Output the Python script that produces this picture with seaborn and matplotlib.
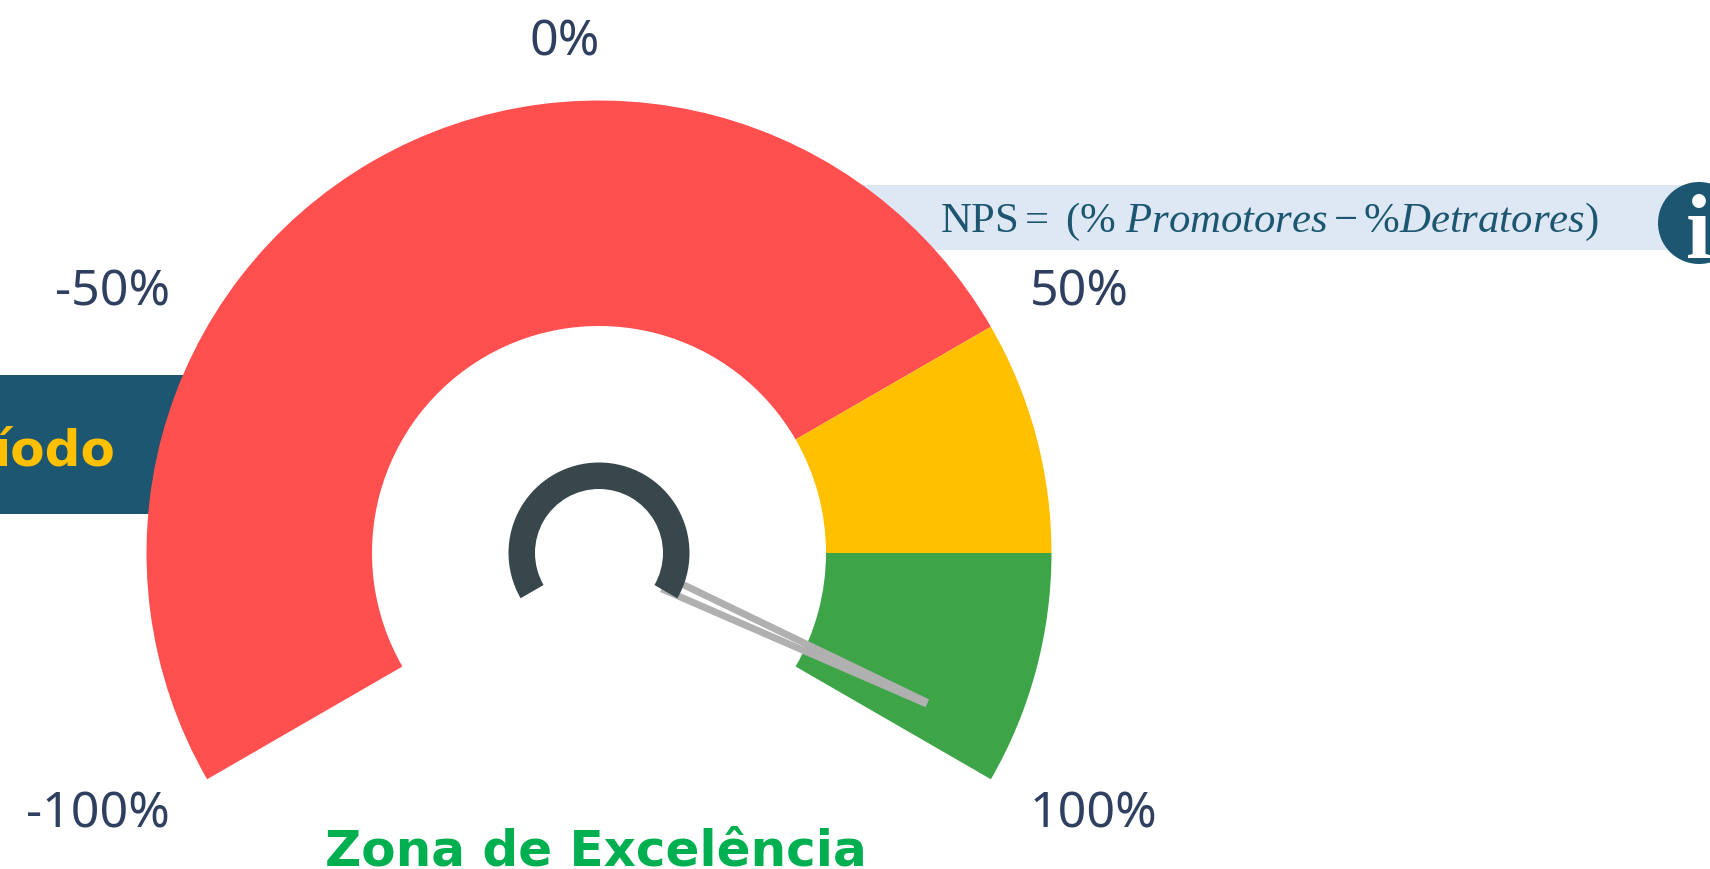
import numpy as np
import pandas as pd
import seaborn as sns
import matplotlib.pyplot as plt
from matplotlib.patches import Wedge, Rectangle, Circle

# faixas do gauge (NPS de -100 a 100)
faixas_inicio = [-100, 50, 75]
faixas_fim = [50, 75, 100]
faixas_cores = ['#FF4F4F', '#FFC000', '#3DA548']
nps_valor = 95.5
rotulos_valor = [-100, -50, 0, 50, 100]
rotulos_texto = ['-100%', '-50%', '0%', '50%', '100%']

sns.set_theme(style='white')
plt.rcParams['mathtext.fontset'] = 'custom'
plt.rcParams['mathtext.rm'] = 'Liberation Serif'
plt.rcParams['mathtext.it'] = 'Liberation Serif:italic'

LARGURA, ALTURA = 1710, 869
CX, CY = 599, ALTURA - 553
R_EXT, R_INT = 452.5, 227
AZUL = '#1C5670'


def angulo(v):
    # -100 fica em 210 graus e 100 em -30 graus
    return 210 - (v + 100) / 200 * 240


def polar(r, graus):
    return CX + r * np.cos(np.radians(graus)), CY + r * np.sin(np.radians(graus))


def braco(ax, r0, desvio0, r1, desvio1, g, px):
    # linha do ponteiro, com desvio perpendicular (em pixels) em cada ponta
    x0, y0 = polar(r0, g + np.degrees(desvio0 / r0))
    x1, y1 = polar(r1, g + np.degrees(desvio1 / r1))
    df = pd.DataFrame({'x': [x0, x1], 'y': [y0, y1]})
    sns.lineplot(data=df, x='x', y='y', sort=False, estimator=None, ax=ax, color='#B0B0B0',
                 linewidth=px * 0.72, solid_capstyle='butt', zorder=5)


fig = plt.figure(figsize=(LARGURA / 100, ALTURA / 100), dpi=100)
ax = fig.add_axes([0, 0, 1, 1])

# faixas de fundo
ax.add_patch(Rectangle((850, ALTURA - 250), 860, 65, color='#DEE8F4', lw=0, zorder=1))
ax.add_patch(Rectangle((0, ALTURA - 514), 220, 139, color=AZUL, lw=0, zorder=1))

# gauge
for ini, fim, cor in zip(faixas_inicio, faixas_fim, faixas_cores):
    ax.add_patch(Wedge((CX, CY), R_EXT, angulo(fim), angulo(ini), width=R_EXT - R_INT,
                       facecolor=cor, edgecolor='none', zorder=3))

# ponteiro: dois bracos que se juntam na ponta
g = angulo(nps_valor)
braco(ax, 80, 6.5, 361, 0.8, g, 7)
braco(ax, 72, -6.5, 361, -0.8, g, 7)

# aro central
ax.add_patch(Wedge((CX, CY), 90.5, -30, 210, width=26.5, facecolor='#37474B', edgecolor='none', zorder=6))

# rotulos em volta do gauge
pos_rotulos = {-100: (170, 814, 'right'), -50: (170, 292, 'right'), 0: (600, 43, 'right'),
               50: (1030, 292, 'left'), 100: (1030, 814, 'left')}
for v, t in zip(rotulos_valor, rotulos_texto):
    x, y, ha = pos_rotulos[v]
    ax.text(x, ALTURA - y, t, ha=ha, va='center', fontsize=36, color='#2F3F60',
            family='Noto Sans', zorder=7)

ax.text(116, ALTURA - 466, 'íodo', ha='right', va='baseline', fontsize=36, fontweight='bold',
        color='#FFC000', family='DejaVu Sans', zorder=2)
ax.text(596, ALTURA - 866, 'Zona de Excelência', ha='center', va='baseline', fontsize=36,
        fontweight='bold', color='#00B050', family='DejaVu Sans', zorder=7)

ax.text(940, ALTURA - 232, r'$\mathrm{NPS}=\ (\%\ Promotores-\%Detratores)$', ha='left',
        va='baseline', fontsize=30.8, color=AZUL, zorder=2)

# icone de informacao
ax.add_patch(Circle((1699, ALTURA - 223), 41, color=AZUL, lw=0, zorder=2))
ax.text(1699, ALTURA - 257, 'i', ha='center', va='baseline', fontsize=66, fontweight='bold',
        color='white', family='Liberation Serif', zorder=3)

ax.set_xlim(0, LARGURA)
ax.set_ylim(0, ALTURA)
ax.axis('off')

fig.savefig('out.png', dpi=100)
